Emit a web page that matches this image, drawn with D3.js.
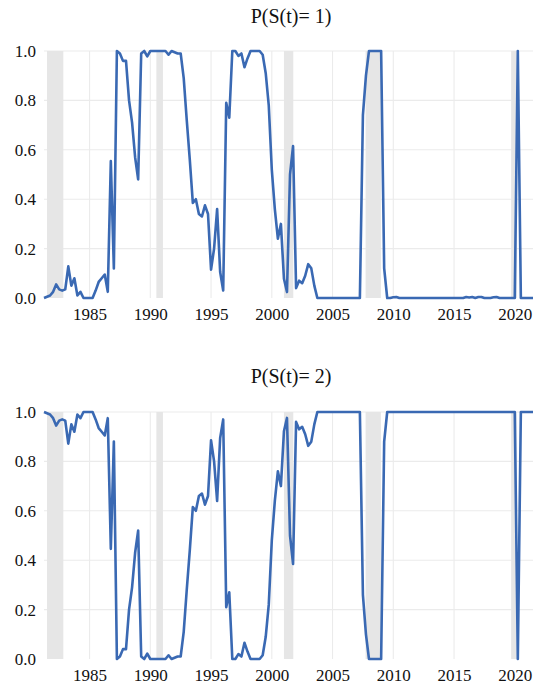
<!DOCTYPE html>
<html>
<head>
<meta charset="utf-8">
<script src="https://cdn.jsdelivr.net/npm/d3@7/dist/d3.min.js"></script>
<style>
  html, body { margin: 0; padding: 0; background: #ffffff; }
  svg { display: block; }
  svg text { font-family: "Liberation Serif", "Times New Roman", serif !important; fill: #111; }
</style>
</head>
<body>
<div id="chart"></div>
<script>
// ---- Data (quarterly, first quarter = 1981 Q2) ----
const firstQuarter = 1981.25;
const quarterStep = 0.25;

const probRegime1 = [
  0, 0.005, 0.01, 0.025, 0.055, 0.035, 0.03, 0.035, 0.128, 0.05,
  0.08, 0.01, 0.025, 0, 0, 0, 0, 0.03, 0.065, 0.08,
  0.095, 0.025, 0.554, 0.12, 1, 0.99, 0.96, 0.96, 0.8, 0.71,
  0.57, 0.48, 0.99, 1, 0.978, 1, 1, 1, 1, 1,
  1, 0.985, 1, 0.995, 0.99, 0.99, 0.89, 0.72, 0.56, 0.385,
  0.4, 0.34, 0.33, 0.375, 0.34, 0.115, 0.2, 0.36, 0.105, 0.03,
  0.79, 0.73, 1, 1, 0.98, 0.99, 0.934, 0.97, 1, 1,
  1, 1, 0.985, 0.91, 0.78, 0.52, 0.36, 0.24, 0.3, 0.078,
  0.024, 0.5, 0.615, 0.04, 0.07, 0.06, 0.09, 0.137, 0.12, 0.05,
  0, 0, 0, 0, 0, 0, 0, 0, 0, 0,
  0, 0, 0, 0, 0, 0.74, 0.9, 1, 1, 1,
  1, 1, 0.12, 0, 0, 0.003, 0.004, 0, 0, 0,
  0, 0, 0, 0, 0, 0, 0, 0, 0, 0,
  0, 0, 0, 0, 0, 0, 0, 0, 0, 0.004,
  0.002, 0.004, 0, 0.004, 0.004, 0, 0, 0, 0.003, 0.004,
  0, 0, 0, 0, 0, 0, 1, 0, 0, 0,
  0, 0
];

const probRegime2 = [
  1, 0.995, 0.99, 0.975, 0.945, 0.965, 0.97, 0.965, 0.872, 0.95,
  0.92, 0.99, 0.975, 1, 1, 1, 1, 0.97, 0.935, 0.92,
  0.905, 0.975, 0.446, 0.88, 0, 0.01, 0.04, 0.04, 0.2, 0.29,
  0.43, 0.52, 0.01, 0, 0.022, 0, 0, 0, 0, 0,
  0, 0.015, 0, 0.005, 0.01, 0.01, 0.11, 0.28, 0.44, 0.615,
  0.6, 0.66, 0.67, 0.625, 0.66, 0.885, 0.8, 0.64, 0.895, 0.97,
  0.21, 0.27, 0, 0, 0.02, 0.01, 0.066, 0.03, 0, 0,
  0, 0, 0.015, 0.09, 0.22, 0.48, 0.64, 0.76, 0.7, 0.922,
  0.976, 0.5, 0.385, 0.96, 0.93, 0.94, 0.91, 0.863, 0.88, 0.95,
  1, 1, 1, 1, 1, 1, 1, 1, 1, 1,
  1, 1, 1, 1, 1, 0.26, 0.1, 0, 0, 0,
  0, 0, 0.88, 1, 1, 1, 1, 1, 1, 1,
  1, 1, 1, 1, 1, 1, 1, 1, 1, 1,
  1, 1, 1, 1, 1, 1, 1, 1, 1, 1,
  1, 1, 1, 1, 1, 1, 1, 1, 1, 1,
  1, 1, 1, 1, 1, 1, 0, 1, 1, 1,
  1, 1
];

const recessionStarts = [1981.5, 1990.5, 2001.0, 2007.72, 2019.7];
const recessionEnds   = [1982.84, 1991.04, 2001.77, 2008.98, 2020.16];

const xTickYears = [1985, 1990, 1995, 2000, 2005, 2010, 2015, 2020];
const yTickValues = [0, 0.2, 0.4, 0.6, 0.8, 1.0];
const panelTitles = ["P(S(t)= 1)", "P(S(t)= 2)"];

// ---- Layout ----
const W = 533, H = 689;
const plotLeft = 44, plotRight = 533;
const panels = [
  { title: panelTitles[0], values: probRegime1, top: 51, bottom: 298, titleY: 23 },
  { title: panelTitles[1], values: probRegime2, top: 412, bottom: 659, titleY: 383 }
];
const lineColor = "#3a69b3";
const serif = "Liberation Serif";

const dates = d3.range(probRegime1.length).map(i => firstQuarter + i * quarterStep);

const svg = d3.select("#chart").append("svg")
  .attr("width", W).attr("height", H)
  .attr("viewBox", `0 0 ${W} ${H}`);

const x = d3.scaleLinear()
  .domain([firstQuarter, dates[dates.length - 1]])
  .range([plotLeft, plotRight]);

panels.forEach(p => {
  const y = d3.scaleLinear().domain([0, 1]).range([p.bottom, p.top]);
  const g = svg.append("g");

  // horizontal gridlines
  g.append("g").selectAll("line")
    .data(yTickValues.filter(v => v > 0))
    .join("line")
    .attr("x1", plotLeft).attr("x2", plotRight)
    .attr("y1", d => y(d)).attr("y2", d => y(d))
    .attr("stroke", "#ebebeb").attr("stroke-width", 1.1);

  // vertical gridlines
  g.append("g").selectAll("line")
    .data(xTickYears)
    .join("line")
    .attr("x1", d => x(d)).attr("x2", d => x(d))
    .attr("y1", y(1)).attr("y2", y(0))
    .attr("stroke", "#ebebeb").attr("stroke-width", 1.1);

  // recession shading
  g.append("g").selectAll("rect")
    .data(recessionStarts.map((s, i) => [s, recessionEnds[i]]))
    .join("rect")
    .attr("x", d => x(d[0]))
    .attr("width", d => x(d[1]) - x(d[0]))
    .attr("y", y(1))
    .attr("height", y(0) - y(1))
    .attr("fill", "#e6e6e6");

  // y axis labels
  const yAxis = d3.axisLeft(y).tickValues(yTickValues).tickFormat(d3.format(".1f")).tickSize(0).tickPadding(8);
  const ya = g.append("g").attr("transform", `translate(${plotLeft},0)`).call(yAxis)
    .attr("font-family", serif).attr("font-size", 17);
  ya.select(".domain").remove();
  ya.selectAll("text")
    .attr("x", 36 - plotLeft)
    .attr("font-family", serif)
    .attr("font-size", 17)
    .attr("fill", "#111");

  // x axis labels
  const xAxis = d3.axisBottom(x).tickValues(xTickYears).tickFormat(d3.format("d")).tickSize(0).tickPadding(0);
  const xa = g.append("g").attr("transform", `translate(0,${p.bottom})`).call(xAxis)
    .attr("font-family", serif).attr("font-size", 17);
  xa.select(".domain").remove();
  xa.selectAll("text")
    .attr("y", 22).attr("dy", null)
    .attr("font-family", serif)
    .attr("font-size", 17)
    .attr("fill", "#111");

  // line
  const line = d3.line()
    .x((d, i) => x(dates[i]))
    .y(d => y(d));
  g.append("path")
    .datum(p.values)
    .attr("d", line)
    .attr("fill", "none")
    .attr("stroke", lineColor)
    .attr("stroke-width", 2.6)
    .attr("stroke-linejoin", "round");

  // title
  g.append("text")
    .attr("x", 291)
    .attr("y", p.titleY)
    .attr("text-anchor", "middle")
    .attr("font-family", serif)
    .attr("font-size", 20)
    .text(p.title);
});
</script>
</body>
</html>
